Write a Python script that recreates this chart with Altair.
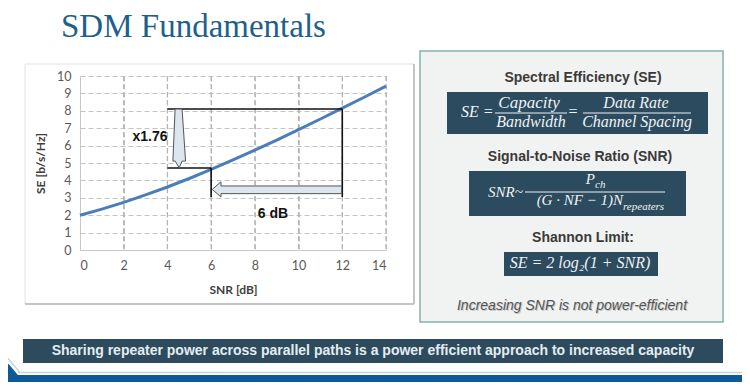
import altair as alt
import pandas as pd

# ---- chart data ----
snr_db = [0, 1, 2, 3, 4, 5, 6, 7, 8, 9, 10, 11, 12, 13, 14]
se_bits = [2.00, 2.35, 2.74, 3.17, 3.62, 4.11, 4.63, 5.18, 5.74, 6.32, 6.92, 7.53, 8.15, 8.78, 9.42]

x_ticks = [0, 2, 4, 6, 8, 10, 12, 14]
y_ticks = [0, 1, 2, 3, 4, 5, 6, 7, 8, 9, 10]

# annotation brackets (data units)
seg_x = [4.0, 12.0, 4.0, 6.0]
seg_y = [8.10, 8.10, 4.71, 4.71]
seg_x2 = [12.0, 12.0, 6.0, 6.0]
seg_y2 = [8.10, 3.05, 4.71, 3.05]

# hollow arrow outlines (data units), listed tip first
down_arrow_y = [4.73, 5.11, 5.11, 8.10]
down_arrow_x = [4.54, 4.25, 4.35, 4.35]
down_arrow_x2 = [4.54, 4.83, 4.67, 4.67]
left_arrow_x = [6.05, 6.45, 6.45, 11.97]
left_arrow_y = [3.48, 3.05, 3.24, 3.24]
left_arrow_y2 = [3.48, 3.92, 3.68, 3.68]

label_text = ["x1.76", "6 dB"]
label_x = [3.2, 8.83]
label_y = [6.5, 2.07]

curve_df = pd.DataFrame({"x": snr_db, "y": se_bits})
vgrid_df = pd.DataFrame({"x": x_ticks[1:]})
seg_df = pd.DataFrame({"x": seg_x, "y": seg_y, "x2": seg_x2, "y2": seg_y2})
down_df = pd.DataFrame({"y": down_arrow_y, "x": down_arrow_x, "x2": down_arrow_x2})
left_df = pd.DataFrame({"x": left_arrow_x, "y": left_arrow_y, "y2": left_arrow_y2})
lab_df = pd.DataFrame({"t": label_text, "x": label_x, "y": label_y})

one = alt.Data(values=[{}])

X = alt.X("x:Q", scale=alt.Scale(domain=[0, 14], nice=False),
          axis=alt.Axis(values=x_ticks, title="SNR [dB]", grid=True, labelPadding=9, titlePadding=13))
Y = alt.Y("y:Q", scale=alt.Scale(domain=[0, 10], nice=False),
          axis=alt.Axis(values=y_ticks, title="SE [b/s/Hz]", grid=True, labelPadding=9, titlePadding=9))

layers = []

# chart panel border
layers.append(alt.Chart(one).mark_rect(fill="white", fillOpacity=0, stroke="#e2e2e2", strokeWidth=1).encode(
    x=alt.value(-55), x2=alt.value(334), y=alt.value(-12), y2=alt.value(228)))
layers.append(alt.Chart(one).mark_rule(color="#c4c4c4", strokeWidth=2).encode(
    x=alt.value(334), x2=alt.value(334), y=alt.value(-12), y2=alt.value(228)))
layers.append(alt.Chart(one).mark_rule(color="#c4c4c4", strokeWidth=2).encode(
    x=alt.value(-55), x2=alt.value(334), y=alt.value(228), y2=alt.value(228)))

# vertical grid lines
layers.append(alt.Chart(vgrid_df).mark_rule(color="#b4b4b4", strokeWidth=1.3, strokeDash=[5, 3]).encode(x=X))

# data layers
layers.append(alt.Chart(curve_df).mark_line(color="#4a7ebb", strokeWidth=3).encode(x=X, y=Y))
layers.append(alt.Chart(seg_df).mark_rule(color="#111111", strokeWidth=1.6).encode(
    x=X, y=Y, x2="x2:Q", y2="y2:Q"))
layers.append(alt.Chart(down_df).mark_area(orient="horizontal", fill="#dbe6ef", stroke="#555555", strokeWidth=1).encode(
    y=Y, x=X, x2="x2:Q"))
layers.append(alt.Chart(left_df).mark_area(orient="vertical", fill="#dbe6ef", stroke="#555555", strokeWidth=1).encode(
    x=X, y=Y, y2="y2:Q"))
layers.append(alt.Chart(lab_df).mark_text(font="Liberation Sans", fontWeight="bold", fontSize=14, color="#111111").encode(
    x=X, y=Y, text="t:N"))


def txt(s, x, y, align="center", baseline="middle", font="Liberation Sans", size=14,
        color="#3a3a3a", weight="normal", style="normal"):
    return alt.Chart(one).mark_text(text=s, align=align, baseline=baseline, font=font, fontSize=size,
                                    color=color, fontWeight=weight, fontStyle=style).encode(
        x=alt.value(x), y=alt.value(y))


def box(x1, x2, y1, y2, fill, stroke=None, sw=0):
    kw = dict(fill=fill)
    if stroke:
        kw.update(stroke=stroke, strokeWidth=sw)
    return alt.Chart(one).mark_rect(**kw).encode(
        x=alt.value(x1), x2=alt.value(x2), y=alt.value(y1), y2=alt.value(y2))


def hline(x1, x2, y, color, w=1):
    return alt.Chart(one).mark_rule(color=color, strokeWidth=w).encode(
        x=alt.value(x1), x2=alt.value(x2), y=alt.value(y), y2=alt.value(y))


# slide title
layers.append(txt("SDM Fundamentals", -19, -39, align="left", baseline="alphabetic",
                  font="Liberation Serif", size=33, color="#1f5f8c"))

# right panel
DARK = "#2c4b5e"
FORM = "#eef3f6"
SERIF = "Liberation Serif"
layers.append(box(340, 643, -25, 246, "#f1f2f2", "#82b3ab", 1.5))
layers.append(txt("Spectral Efficiency (SE)", 503, 2, weight="bold", size=14))
layers.append(box(367, 628, 16, 58, DARK))
layers.append(txt("SE =", 381, 41, align="left", baseline="alphabetic", font=SERIF, size=16, color=FORM, style="italic"))
layers.append(txt("Capacity", 449, 32, baseline="alphabetic", font=SERIF, size=17, color=FORM, style="italic"))
layers.append(hline(415, 487, 37, FORM))
layers.append(txt("Bandwidth", 451, 51, baseline="alphabetic", font=SERIF, size=16, color=FORM, style="italic"))
layers.append(txt("=", 493, 41, baseline="alphabetic", font=SERIF, size=16, color=FORM))
layers.append(txt("Data Rate", 556, 32, baseline="alphabetic", font=SERIF, size=16, color=FORM, style="italic"))
layers.append(hline(503, 611, 37, FORM))
layers.append(txt("Channel Spacing", 557, 51, baseline="alphabetic", font=SERIF, size=16, color=FORM, style="italic"))

layers.append(txt("Signal-to-Noise Ratio (SNR)", 500, 81, weight="bold", size=14))
layers.append(box(389, 606, 95, 140, DARK))
layers.append(txt("SNR~", 408, 121, align="left", baseline="alphabetic", font=SERIF, size=15, color=FORM, style="italic"))
layers.append(txt("P", 515, 108, align="right", baseline="alphabetic", font=SERIF, size=15, color=FORM, style="italic"))
layers.append(txt("ch", 515, 112, align="left", baseline="alphabetic", font=SERIF, size=11, color=FORM, style="italic"))
layers.append(hline(445, 585, 116, FORM))
layers.append(txt("(G · NF − 1)N", 543, 129, align="right", baseline="alphabetic", font=SERIF, size=15, color=FORM, style="italic"))
layers.append(txt("repeaters", 543, 134, align="left", baseline="alphabetic", font=SERIF, size=11, color=FORM, style="italic"))

layers.append(txt("Shannon Limit:", 503, 162, weight="bold", size=14))
layers.append(box(424, 578, 176, 200, DARK))
layers.append(txt("SE = 2 log₂(1 + SNR)", 500, 192, baseline="alphabetic", font=SERIF, size=16, color=FORM, style="italic"))

layers.append(txt("Increasing SNR is not power-efficient", 493, 231, size=14, color="#c8c8c8", style="italic"))
layers.append(txt("Increasing SNR is not power-efficient", 492, 230, size=14, color="#555555", style="italic"))

# bottom banner
layers.append(box(-57, 643, 263, 287, "#2d4b5d"))
layers.append(txt("Sharing repeater power across parallel paths is a power efficient approach to increased capacity",
                  293, 275, font="Liberation Sans", size=14, weight="bold", color="#e4edf2"))

# bottom blue band
layers.append(hline(-62, 662, 296.5, "#c9d2da", 1.5))
layers.append(alt.Chart(one).mark_rule(color="#c9d2da", strokeWidth=1.5).encode(
    x=alt.value(-80), x2=alt.value(-60), y=alt.value(273), y2=alt.value(296.5)))
layers.append(box(-72, 662, 299, 310, "#0e5a98"))
layers.append(alt.Chart(one).mark_rule(color="#0e5a98", strokeWidth=14).encode(
    x=alt.value(-84), x2=alt.value(-62), y=alt.value(284), y2=alt.value(310)))

chart = alt.layer(*layers).properties(
    width=306, height=174,
    padding={"left": 72, "top": 68, "right": 356, "bottom": 132},
    autosize=alt.AutoSizeParams(type="none"),
    background="white",
).configure_view(stroke=None).configure_axis(
    grid=True, gridColor="#c4c4c4", gridDash=[5, 3], gridWidth=1, gridOpacity=1,
    domainColor="#c8c8c8", ticks=False,
    labelFont="Lato", labelFontSize=12.5, labelColor="#595959",
    titleFont="Lato", titleFontSize=12, titleFontWeight="bold", titleColor="#404040",
)

chart.save("out.html", embed_options={"renderer": "svg", "actions": False})
